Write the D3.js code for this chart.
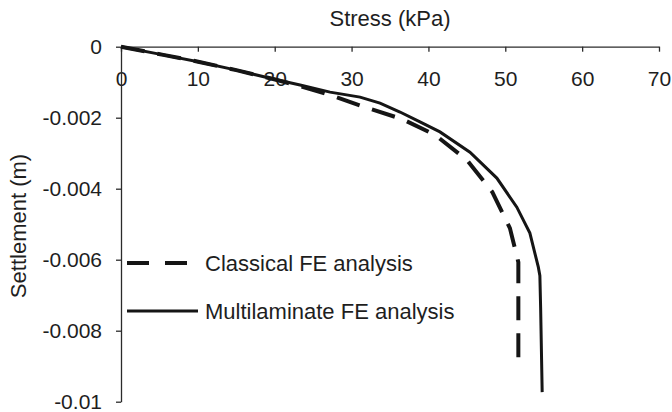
<!DOCTYPE html>
<html>
<head>
<meta charset="utf-8">
<script src="https://cdn.jsdelivr.net/npm/d3@7"></script>
<style>
  html, body { margin: 0; padding: 0; background: #fff; }
  svg { display: block; font-family: "Liberation Sans", Arial, sans-serif; }
</style>
</head>
<body>
<svg id="chart" width="672" height="412"></svg>
<script>
// Load-settlement response of the footing, stress in kPa, settlement in m
const classicalStress = [0, 5.5, 10.2, 15, 19.8, 23.3, 27.2, 31.7, 36.6, 40.9, 45.0, 48.3, 50.6, 51.7, 51.7];
const classicalSettlement = [0, -0.00023, -0.00043, -0.00066, -0.00091, -0.00111, -0.00136, -0.00170, -0.00204, -0.00249, -0.00319, -0.00409, -0.00511, -0.00607, -0.00897];

const multiStress = [0, 5.5, 10.2, 15, 19.8, 23.3, 27.2, 31.1, 33.7, 36.3, 38.9, 41.5, 45.4, 48.9, 51.5, 53.2, 54.3, 54.5, 54.6, 54.8];
const multiSettlement = [0, -0.00023, -0.00043, -0.00066, -0.00091, -0.00108, -0.00128, -0.00142, -0.00159, -0.00184, -0.00212, -0.00240, -0.00297, -0.00370, -0.00452, -0.00525, -0.00621, -0.00645, -0.00736, -0.00973];

const stressTicks = [0, 10, 20, 30, 40, 50, 60, 70];
const settlementTicks = [0, -0.002, -0.004, -0.006, -0.008, -0.01];
const seriesNames = ["Classical FE analysis", "Multilaminate FE analysis"];

const svg = d3.select("#chart");
const x = d3.scaleLinear().domain([0, 70]).range([121, 659]);
const y = d3.scaleLinear().domain([0, -0.01]).range([46.7, 401.7]);

const axisColor = "#2b2b2b";
const textColor = "#1e1e1e";
const fontFamily = "Liberation Sans, Arial, sans-serif";

// Stress axis runs along the top, ticks pointing into the plot
const xAxis = svg.append("g")
  .attr("transform", `translate(0,${y(0)})`)
  .call(d3.axisBottom(x).tickValues(stressTicks).tickFormat(d3.format("d"))
    .tickSize(5).tickSizeOuter(0).tickPadding(19));
xAxis.selectAll("path, line").attr("stroke", axisColor).attr("stroke-width", 1.3);
xAxis.selectAll("text").attr("font-size", 21).attr("fill", textColor)
  .attr("font-family", fontFamily);

const yAxis = svg.append("g")
  .attr("transform", `translate(${x(0)},0)`)
  .call(d3.axisLeft(y).tickValues(settlementTicks).tickFormat(d => d === 0 ? "0" : String(d))
    .tickSize(5).tickSizeOuter(0).tickPadding(14));
yAxis.selectAll("path, line").attr("stroke", axisColor).attr("stroke-width", 1.3);
yAxis.selectAll("text").attr("font-size", 21).attr("fill", textColor)
  .attr("font-family", fontFamily);

// Axis titles
svg.append("text")
  .attr("x", 390).attr("y", 26)
  .attr("text-anchor", "middle")
  .attr("font-size", 22).attr("fill", textColor)
  .text("Stress (kPa)");

svg.append("text")
  .attr("transform", "translate(26,226) rotate(-90)")
  .attr("text-anchor", "middle")
  .attr("font-size", 22).attr("fill", textColor)
  .text("Settlement (m)");

// Curves
const line = d3.line().x(d => x(d[0])).y(d => y(d[1]));
const classical = d3.zip(classicalStress, classicalSettlement);
const multi = d3.zip(multiStress, multiSettlement);

svg.append("path")
  .datum(multi)
  .attr("d", line)
  .attr("fill", "none")
  .attr("stroke", "#151515")
  .attr("stroke-width", 3);

svg.append("path")
  .datum(classical)
  .attr("d", line)
  .attr("fill", "none")
  .attr("stroke", "#151515")
  .attr("stroke-width", 4)
  .attr("stroke-dasharray", "24,13");

// Legend
const legend = svg.append("g");
const legendRows = [
  { name: seriesNames[0], y: 263, x2: 190, dash: "22,16", width: 4 },
  { name: seriesNames[1], y: 311, x2: 198, dash: null, width: 3 }
];
legendRows.forEach(r => {
  legend.append("line")
    .attr("x1", 127).attr("x2", r.x2)
    .attr("y1", r.y).attr("y2", r.y)
    .attr("stroke", "#151515")
    .attr("stroke-width", r.width)
    .attr("stroke-dasharray", r.dash);
  legend.append("text")
    .attr("x", 205).attr("y", r.y)
    .attr("dy", "0.35em")
    .attr("font-size", 22).attr("fill", textColor)
    .text(r.name);
});
</script>
</body>
</html>
